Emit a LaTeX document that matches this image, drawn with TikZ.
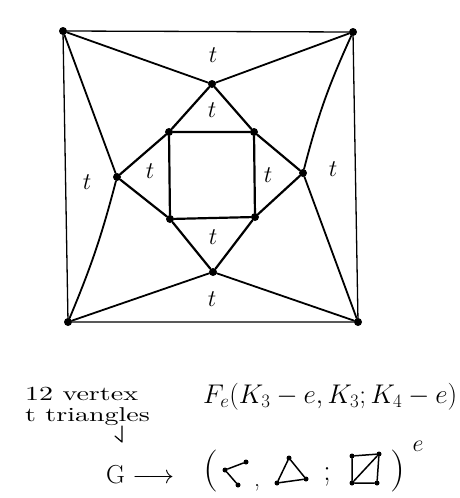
\RequirePackage{fix-cm}
\documentclass[tikz,border=0pt]{standalone}
\usepackage{fontspec}
\newfontfamily\handfont[FakeStretch=1.4]{lmroman10-regular.otf}
\begin{document}
\begin{tikzpicture}[x=1pt,y=-1pt,line join=round,line cap=round,
	vx/.style={circle,fill,inner sep=0pt,minimum size=8pt},
	sv/.style={circle,fill,inner sep=0pt,minimum size=5pt},
	ln/.style={line width=1.8pt},
	thin ln/.style={line width=1.3pt},
	thick ln/.style={line width=2.2pt},
	lab/.style={font=\fontsize{24}{24}\selectfont},
	hand/.style={font=\handfont\fontsize{20}{20}\selectfont,anchor=base west,inner sep=0pt}]
	\useasboundingbox (0,0) rectangle (459,498);
	% outer corners
	\node[vx] (c1) at (63,31) {};
	\node[vx] (c2) at (353,32) {};
	\node[vx] (c3) at (358,322) {};
	\node[vx] (c4) at (68,322) {};
	% diamond
	\node[vx] (m1) at (212,84) {};
	\node[vx] (m2) at (303,173) {};
	\node[vx] (m3) at (213,272) {};
	\node[vx] (m4) at (117,177) {};
	% inner square
	\node[vx] (s1) at (169,132) {};
	\node[vx] (s2) at (254,132) {};
	\node[vx] (s3) at (255,217) {};
	\node[vx] (s4) at (170,219) {};
	\draw[thin ln] (c1)--(c2) (c2)--(c3) (c3)--(c4) (c4)--(c1);
	\draw[ln] (c1)--(m1)--(c2);
	\draw[ln] (c2) to[bend right=5] (m2);
	\draw[ln] (m2)--(c3)--(m3)--(c4);
	\draw[ln] (c4) to[bend right=4] (m4);
	\draw[ln] (m4)--(c1);
	\draw[thick ln] (m1)--(s1)--(m4)--(s4)--(m3)--(s3)--(m2)--(s2)--(m1);
	\draw[thick ln] (s1)--(s2)--(s3)--(s4)--(s1);
	% triangle labels
	\node[lab] (t1) at (213,55) {$t$};
	\node[lab] (t2) at (212,110) {$t$};
	\node[lab] (t3) at (150,171) {$t$};
	\node[lab] (t4) at (87,182) {$t$};
	\node[lab] (t5) at (268,175) {$t$};
	\node[lab] (t6) at (333,169) {$t$};
	\node[lab] (t7) at (213,237) {$t$};
	\node[lab] (t8) at (212,299) {$t$};
	% text below
	\node[hand] (nv) at (25,400) {12 vertex};
	\node[hand] (nt) at (25,421) {t triangles};
	\coordinate (k0) at (122,426);
	\coordinate (k1) at (122,442);
	\coordinate (k2) at (115,436);
	\draw[line width=1.2pt] (k0)--(k1)--(k2);
	\node[font=\fontsize{27}{27}\selectfont,anchor=base west,inner sep=0pt] (fe) at (203,403) {$F_{e}(K_3-e,K_3;K_4-e)$};
	\node[font=\fontsize{26}{26}\selectfont,anchor=base west,inner sep=0pt] (gl) at (106,483) {$\mathrm{G}\longrightarrow$};
	\node[font=\fontsize{42}{42}\selectfont,inner sep=0pt] (lp) at (211,471) {(};
	\node[font=\fontsize{42}{42}\selectfont,inner sep=0pt] (rp) at (398,471) {)};
	\node[font=\fontsize{24}{24}\selectfont,inner sep=0pt] (ex) at (418,446) {$e$};
	\node[font=\fontsize{24}{24}\selectfont,inner sep=0pt] (cm) at (257,488) {,};
	\node[font=\fontsize{30}{30}\selectfont,inner sep=0pt] (sc) at (327,477) {;};
	% small graphs
	\node[sv] (p1) at (246,462) {};
	\node[sv] (p2) at (225,470) {};
	\node[sv] (p3) at (238,485) {};
	\draw[line width=1.5pt] (p1)--(p2)--(p3);
	\node[sv] (q1) at (289,458) {};
	\node[sv] (q2) at (277,483) {};
	\node[sv] (q3) at (306,479) {};
	\draw[line width=1.5pt] (q1)--(q2)--(q3)--(q1);
	\node[sv] (r1) at (352,456) {};
	\node[sv] (r2) at (379,454) {};
	\node[sv] (r3) at (352,483) {};
	\node[sv] (r4) at (377,483) {};
	\draw[line width=1.5pt] (r1)--(r2)--(r4)--(r3)--(r1) (r3)--(r2);
\end{tikzpicture}
\end{document}
